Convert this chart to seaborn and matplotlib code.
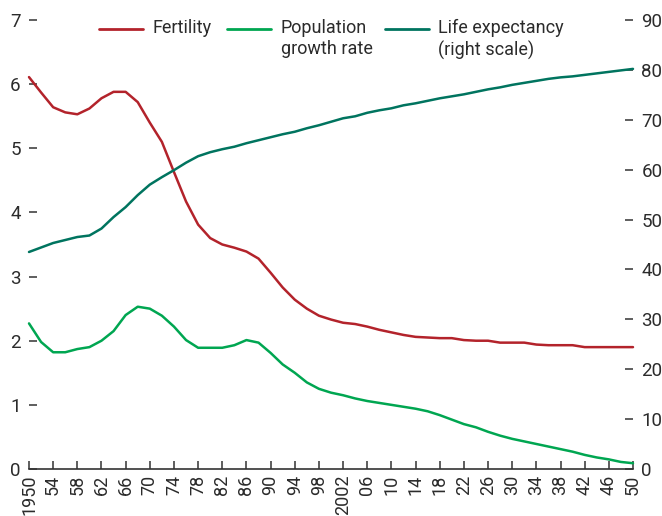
import matplotlib
matplotlib.use("Agg")
import matplotlib.pyplot as plt
import seaborn as sns
import pandas as pd
from matplotlib import font_manager
from matplotlib.lines import Line2D

# ---- data -------------------------------------------------------------
years = list(range(1950, 2051, 2))

fertility = [6.11, 5.87, 5.64, 5.56, 5.53, 5.62, 5.78, 5.88, 5.88, 5.72,
             5.40, 5.10, 4.63, 4.17, 3.81, 3.60, 3.50, 3.45, 3.39, 3.28,
             3.06, 2.83, 2.64, 2.50, 2.39, 2.33, 2.28, 2.26, 2.22, 2.17,
             2.13, 2.09, 2.06, 2.05, 2.04, 2.04, 2.01, 2.00, 2.00, 1.97,
             1.97, 1.97, 1.94, 1.93, 1.93, 1.93, 1.90, 1.90, 1.90, 1.90,
             1.90]

pop_growth = [2.27, 1.98, 1.82, 1.82, 1.87, 1.90, 2.00, 2.15, 2.40, 2.53,
              2.50, 2.39, 2.22, 2.01, 1.89, 1.89, 1.89, 1.93, 2.01, 1.97,
              1.81, 1.63, 1.50, 1.35, 1.25, 1.19, 1.15, 1.10, 1.06, 1.03,
              1.00, 0.97, 0.94, 0.90, 0.84, 0.77, 0.70, 0.65, 0.58, 0.52,
              0.47, 0.43, 0.39, 0.35, 0.31, 0.27, 0.22, 0.18, 0.15, 0.11,
              0.09]

life_exp = [43.5, 44.4, 45.3, 45.9, 46.5, 46.8, 48.2, 50.5, 52.5, 54.9,
            57.0, 58.5, 59.9, 61.4, 62.7, 63.5, 64.1, 64.6, 65.3, 65.9,
            66.5, 67.1, 67.6, 68.3, 68.9, 69.6, 70.3, 70.7, 71.4, 71.9,
            72.3, 72.9, 73.3, 73.8, 74.3, 74.7, 75.1, 75.6, 76.1, 76.5,
            77.0, 77.4, 77.8, 78.2, 78.5, 78.7, 79.0, 79.3, 79.6, 79.9,
            80.2]

tick_years = list(range(1950, 2051, 4))
tick_labels = [str(y) if y in (1950, 2002) else f"{y % 100:02d}" for y in tick_years]

left_ticks = list(range(0, 8))
right_ticks = list(range(0, 91, 10))

series_labels = ["Fertility", "Population\ngrowth rate", "Life expectancy\n(right scale)"]
colors = ["#B3232B", "#00A651", "#00745F"]

df = pd.DataFrame({"year": years, "fertility": fertility,
                   "growth": pop_growth, "life": life_exp})

# ---- style ------------------------------------------------------------
sns.set_theme(style="white")
names = {f.name for f in font_manager.fontManager.ttflist}
family = next((f for f in ["Liberation Sans Narrow", "Roboto", "Liberation Sans"]
               if f in names), "DejaVu Sans")
plt.rcParams["font.family"] = [family, "DejaVu Sans"]
text_color = "#2B2B2B"
fs = 13

W, H = 662, 516
fig = plt.figure(figsize=(W / 100, H / 100), dpi=100)
left, right, top, bottom = 29, 633, 20, 469
ax = fig.add_axes([left / W, 1 - bottom / H, (right - left) / W, (bottom - top) / H])
ax2 = ax.twinx()

lw = 1.8
sns.lineplot(data=df, x="year", y="fertility", ax=ax, color=colors[0], lw=lw, clip_on=False)
sns.lineplot(data=df, x="year", y="growth", ax=ax, color=colors[1], lw=lw, clip_on=False)
sns.lineplot(data=df, x="year", y="life", ax=ax2, color=colors[2], lw=lw, clip_on=False)

ax.set_xlim(1950, 2050)
ax.set_ylim(0, 7)
ax2.set_ylim(0, 90)
ax.set_xlabel("")
ax.set_ylabel("")
ax2.set_ylabel("")

ax.set_xticks(tick_years)
ax.set_xticklabels(tick_labels, rotation=90, fontsize=fs, color=text_color)
ax.set_yticks(left_ticks)
ax.set_yticklabels([str(v) for v in left_ticks], fontsize=fs + 0.5, color=text_color)
ax2.set_yticks(right_ticks)
ax2.set_yticklabels([str(v) for v in right_ticks], fontsize=fs + 0.5, color=text_color)

ax.tick_params(axis="x", direction="in", length=6, width=1.1, color="#333333", pad=4, bottom=True)
ax.tick_params(axis="y", direction="in", length=6, width=1.1, color="#333333", pad=6, left=True)
ax2.tick_params(axis="y", direction="in", length=6, width=1.1, color="#333333", pad=6, right=True)

for a in (ax, ax2):
    for s in ("left", "right", "top"):
        a.spines[s].set_visible(False)
    a.grid(False)
ax2.spines["bottom"].set_visible(False)
ax.spines["bottom"].set_color("#333333")
ax.spines["bottom"].set_linewidth(1.2)

# ---- legend (handles level with the first text line) --------------------
entries = [(99, 143, 153), (227, 271, 281), (385, 429, 438)]
for (h0, h1, tx), lab, col in zip(entries, series_labels, colors):
    fig.add_artist(Line2D([h0 / W, h1 / W], [1 - 29 / H] * 2, color=col, lw=2.0,
                          transform=fig.transFigure))
    fig.text(tx / W, 1 - 19 / H, lab, ha="left", va="top", fontsize=fs,
             color=text_color, linespacing=1.25)

fig.savefig("out.png", dpi=100)
